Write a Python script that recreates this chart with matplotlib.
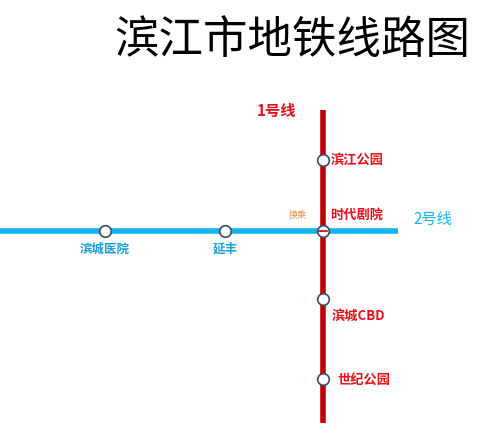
import matplotlib
matplotlib.use("Agg")
import matplotlib.pyplot as plt

plt.rcParams['font.family'] = ['Noto Sans CJK SC', 'DejaVu Sans']

title = "滨江市地铁线路图"
line1_name = "1号线"
line2_name = "2号线"
line1_stations = ["滨江公园", "时代剧院", "滨城CBD", "世纪公园"]
line1_y = [160, 231, 299, 379]
line1_x = 323
line1_range = [110, 423]
line2_stations = ["滨城医院", "延丰", "时代剧院"]
line2_x = [105, 225, 323]
line2_y = 231
line2_range = [0, 398]
transfer_label = "换乘"

fig = plt.figure(figsize=(5.0, 4.26), dpi=100)
ax = fig.add_axes([0, 0, 1, 1])
ax.set_xlim(0, 500)
ax.set_ylim(426, 0)
ax.axis('off')

red = '#c00000'
blue = '#12b4ee'
lab_red = '#e8101a'

ax.plot(line2_range, [line2_y, line2_y], color=blue, lw=4, solid_capstyle='butt', zorder=1)
ax.plot([line1_x, line1_x], line1_range, color=red, lw=4, solid_capstyle='butt', zorder=2)

offsets = {"滨江公园": (8, 0), "时代剧院": (7, -16), "滨城CBD": (9, 17), "世纪公园": (14, 1)}
for name, y in zip(line1_stations, line1_y):
    ax.scatter([line1_x], [y], s=70, facecolor='white', edgecolor='#3a4a66', lw=1.2, zorder=3)
    dx, dy = offsets[name]
    ax.text(line1_x + dx, y + dy, name, color=lab_red, fontsize=9.5, fontweight='bold', va='center', ha='left')

for name, x in zip(line2_stations, line2_x):
    if name == "时代剧院":
        continue
    ax.scatter([x], [line2_y], s=70, facecolor='white', edgecolor='#3a4a66', lw=1.2, zorder=3)
    ax.text(x, line2_y + 18, name, color='#1a9ed8', fontsize=9, fontweight='bold', va='center', ha='center')

ax.plot([line1_x - 4, line1_x + 4], [line2_y, line2_y], color=red, lw=1.2, zorder=4)
ax.text(298, 215, transfer_label, color='#f08a40', fontsize=6.5, va='center', ha='center')

ax.text(257, 111, line1_name, color=lab_red, fontsize=11, fontweight='bold', va='center', ha='left')
ax.text(413, 219, line2_name, color=blue, fontsize=11, va='center', ha='left')
ax.text(470, 40, title, color='black', fontsize=32, va='center', ha='right')

fig.savefig("out.png", dpi=100)
